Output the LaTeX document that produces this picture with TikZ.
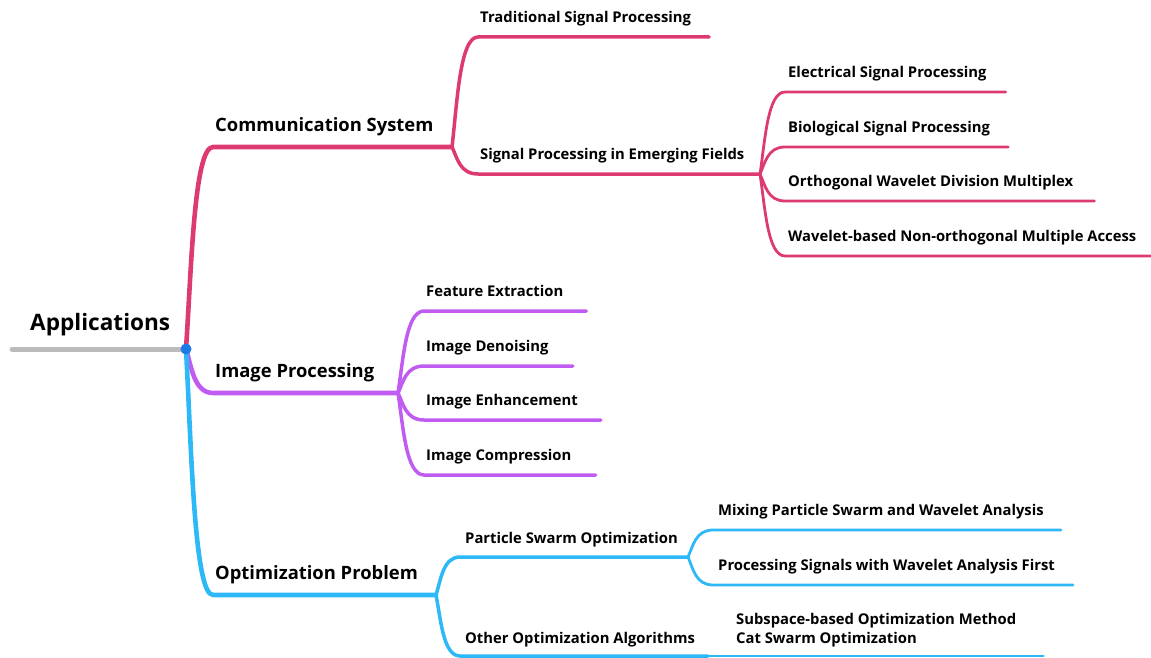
\documentclass[tikz,border=0pt]{standalone}
\usepackage{fontspec}
\setmainfont{Open Sans}
\usetikzlibrary{positioning,calc}

\definecolor{commred}{HTML}{DD3A6F}
\definecolor{imgviolet}{HTML}{C05CF2}
\definecolor{optcyan}{HTML}{2DB9F7}
\definecolor{stemgray}{HTML}{BBBBBB}
\definecolor{hubblue}{HTML}{1C7BE6}

\tikzset{
  roottext/.style={font=\bfseries\fontsize{22.6}{26}\selectfont,inner sep=0pt,text depth=0pt},
  topictext/.style={font=\bfseries\fontsize{18.4}{22}\selectfont,inner sep=0pt,text depth=0pt},
  leaftext/.style={font=\bfseries\fontsize{14.8}{19}\selectfont,inner sep=0pt,text depth=0pt,align=left},
  mainline/.style={line width=4.6pt,line cap=round,line join=round},
  midline/.style={line width=3.5pt,line cap=round,line join=round},
  leafline/.style={line width=2.8pt,line cap=round,line join=round},
  fork/.style={to path={let \p1=(\tikztostart),\p2=(\tikztotarget) in
      .. controls ({\x1+0.2*(\x2-\x1)},{\y1+0.4*(\y2-\y1)}) and ({\x1+0.3*(\x2-\x1)},\y2) .. (\tikztotarget)}}
}

\begin{document}
\begin{tikzpicture}[x=1pt,y=-1pt]
  \useasboundingbox (0,0) rectangle (1151,658);

  % root
  \coordinate (stem) at (12,349);
  \coordinate (hub) at (186,349);
  \node[roottext,above right=18pt and 18pt of stem] (apps) {Applications};
  \draw[stemgray,line width=5pt,line cap=round] (stem) -- (hub);

  % communication system
  \coordinate (comm) at (213,147);
  \coordinate (commfork) at (452,147);
  \node[topictext,above right=15pt and 2pt of comm] (comml) {Communication System};
  \draw[commred,mainline] (hub) to[fork] (comm) -- (commfork);

  \coordinate (tsp) at (478,37);
  \coordinate (sef) at (478,174);
  \coordinate (seffork) at (760,174);
  \node[leaftext,above right=14pt and 2pt of tsp] (tspl) {Traditional Signal Processing};
  \node[leaftext,above right=14pt and 2pt of sef] (sefl) {Signal Processing in Emerging Fields};
  \draw[commred,midline] (commfork) to[fork] (tsp) -- ($(tsp -| tspl.east)+(18pt,0)$);
  \draw[commred,midline] (commfork) to[fork] (sef) -- (seffork);

  \coordinate (esp) at (785,92);
  \coordinate (bsp) at (785,147);
  \coordinate (owdm) at (785,201);
  \coordinate (wnoma) at (785,256);
  \node[leaftext,above right=14pt and 3pt of esp] (espl) {Electrical Signal Processing};
  \node[leaftext,above right=14pt and 3pt of bsp] (bspl) {Biological Signal Processing};
  \node[leaftext,above right=14pt and 3pt of owdm] (owdml) {Orthogonal Wavelet Division Multiplex};
  \node[leaftext,above right=14pt and 3pt of wnoma] (wnomal) {Wavelet-based Non-orthogonal Multiple Access};
  \draw[commred,leafline] (seffork) to[fork] (esp) -- ($(esp -| espl.east)+(19pt,0)$);
  \draw[commred,leafline] (seffork) to[fork] (bsp) -- ($(bsp -| bspl.east)+(18pt,0)$);
  \draw[commred,leafline] (seffork) to[fork] (owdm) -- ($(owdm -| owdml.east)+(21pt,0)$);
  \draw[commred,leafline] (seffork) to[fork] (wnoma) -- ($(wnoma -| wnomal.east)+(18pt,0)$);

  % image processing
  \coordinate (img) at (213,393);
  \coordinate (imgfork) at (398,393);
  \node[topictext,above right=15pt and 2pt of img] (imgl) {Image Processing};
  \draw[imgviolet,mainline] (hub) to[fork] (img) -- (imgfork);

  \coordinate (fex) at (424,311);
  \coordinate (den) at (424,366);
  \coordinate (enh) at (424,420);
  \coordinate (cmp) at (424,475);
  \node[leaftext,above right=14pt and 2pt of fex] (fexl) {Feature Extraction};
  \node[leaftext,above right=14pt and 2pt of den] (denl) {Image Denoising};
  \node[leaftext,above right=14pt and 2pt of enh] (enhl) {Image Enhancement};
  \node[leaftext,above right=14pt and 2pt of cmp] (cmpl) {Image Compression};
  \draw[imgviolet,midline] (imgfork) to[fork] (fex) -- ($(fex -| fexl.east)+(23pt,0)$);
  \draw[imgviolet,midline] (imgfork) to[fork] (den) -- ($(den -| denl.east)+(24pt,0)$);
  \draw[imgviolet,midline] (imgfork) to[fork] (enh) -- ($(enh -| enhl.east)+(23pt,0)$);
  \draw[imgviolet,midline] (imgfork) to[fork] (cmp) -- ($(cmp -| cmpl.east)+(24pt,0)$);

  % optimization problem
  \coordinate (opt) at (213,595);
  \coordinate (optfork) at (436,595);
  \node[topictext,above right=15pt and 2pt of opt] (optl) {Optimization Problem};
  \draw[optcyan,mainline] (hub) to[fork] (opt) -- (optfork);

  \coordinate (pso) at (460,557);
  \coordinate (psofork) at (688,557);
  \coordinate (ooa) at (460,656);
  \coordinate (ooafork) at (708,656);
  \node[leaftext,above right=13pt and 5pt of pso] (psol) {Particle Swarm Optimization};
  \node[leaftext,above right=12pt and 5pt of ooa] (ooal) {Other Optimization Algorithms};
  \draw[optcyan,midline] (optfork) to[fork] (pso) -- (psofork);
  \draw[optcyan,midline] (optfork) to[fork] (ooa) -- (ooafork);

  \coordinate (mix) at (713,530);
  \coordinate (first) at (713,585);
  \node[leaftext,above right=14pt and 5pt of mix] (mixl) {Mixing Particle Swarm and Wavelet Analysis};
  \node[leaftext,above right=14pt and 5pt of first] (firstl) {Processing Signals with Wavelet Analysis First};
  \draw[optcyan,leafline] (psofork) to[fork] (mix) -- ($(mix -| mixl.east)+(17pt,0)$);
  \draw[optcyan,leafline] (psofork) to[fork] (first) -- ($(first -| firstl.east)+(18pt,0)$);

  \node[leaftext,above right=12pt and 28pt of ooafork] (subl) {Subspace-based Optimization Method\\Cat Swarm Optimization};
  \draw[optcyan,leafline] (ooafork) -- ($(ooafork -| subl.east)+(27pt,0)$);

  \fill[hubblue] (hub) circle[radius=5.5pt];
\end{tikzpicture}
\end{document}
